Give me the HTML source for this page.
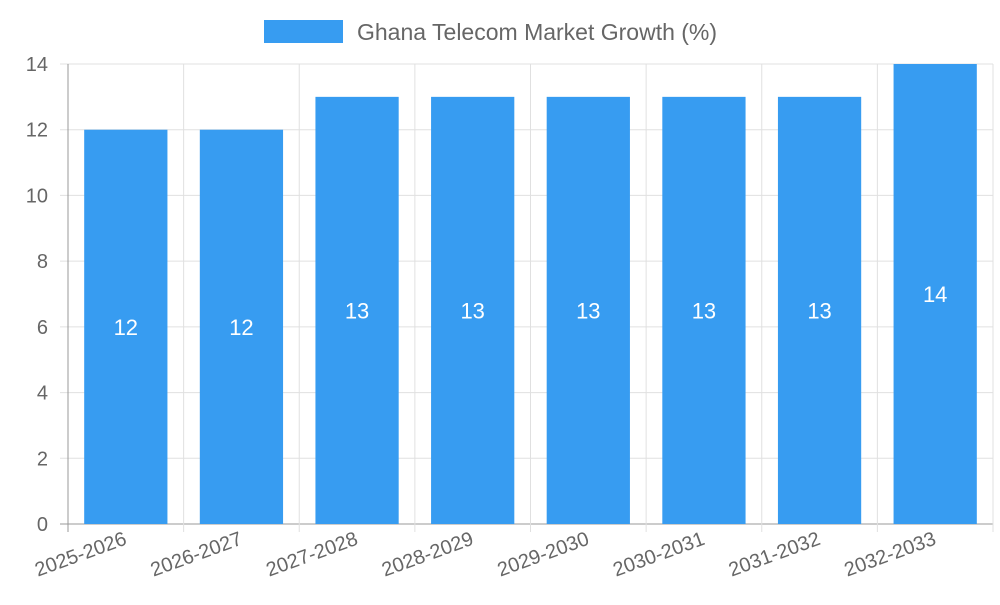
<!DOCTYPE html>
<html><head><meta charset="utf-8"><style>body{margin:0;background:#fff}svg{font-family:"Liberation Sans",sans-serif}</style></head>
<body>
<svg id="c" width="1000" height="600">
<g>
<rect x="264" y="20" width="79" height="23" fill="#379cf1"/>
<text x="357" y="40" font-size="23" fill="#666">Ghana Telecom Market Growth (%)</text>
</g>
<g id="grid"></g><g id="bars"></g><g id="labels"></g>
</svg>
<script>
const categories=["2025-2026","2026-2027","2027-2028","2028-2029","2029-2030","2030-2031","2031-2032","2032-2033"];
const values=[12,12,13,13,13,13,13,14];
const yTicks=[0,2,4,6,8,10,12,14];
const L=68,R=993,T=64,B=524,yMax=14;
const bw=(R-L)/categories.length;
const y=v=>B-(v/yMax)*(B-T);
const x=i=>L+bw*i;
const ns="http://www.w3.org/2000/svg";
function mk(tag,attrs,parent,txt){const e=document.createElementNS(ns,tag);for(const k in attrs)e.setAttribute(k,attrs[k]);if(txt!=null)e.textContent=txt;document.getElementById(parent).appendChild(e);return e;}
yTicks.forEach(t=>{
 const g=mk('line',{x1:60,x2:R,y1:y(t),y2:y(t),stroke:t===0?'#999':'#e0e0e0','stroke-width':1},'grid');
 
 
 const l=mk('text',{x:48,y:y(t)+7,'text-anchor':'end','font-size':20,fill:'#666'},'labels',t);
 
 
});
for(let i=0;i<=categories.length;i++){
 const g=mk('line',{x1:x(i),x2:x(i),y1:T,y2:B+8,stroke:i===0?'#999':'#e0e0e0','stroke-width':1},'grid');
 
 
}
categories.forEach((c,i)=>{
 const cx=x(i)+bw/2,w=bw*0.72;
 const r=mk('rect',{x:cx-w/2,y:y(values[i]),width:w,height:B-y(values[i]),fill:'#379cf1'},'bars');
 
 
 const v=mk('text',{x:cx,y:(y(values[i])+B)/2+8,'text-anchor':'middle','font-size':22,fill:'#fff'},'labels',values[i]);
 
 
 const t=mk('text',{x:cx+2,y:544,'text-anchor':'end','font-size':20,fill:'#666',transform:`rotate(-20 ${cx+2} 544)`},'labels',c);
 
 
});
</script>
</body></html>
